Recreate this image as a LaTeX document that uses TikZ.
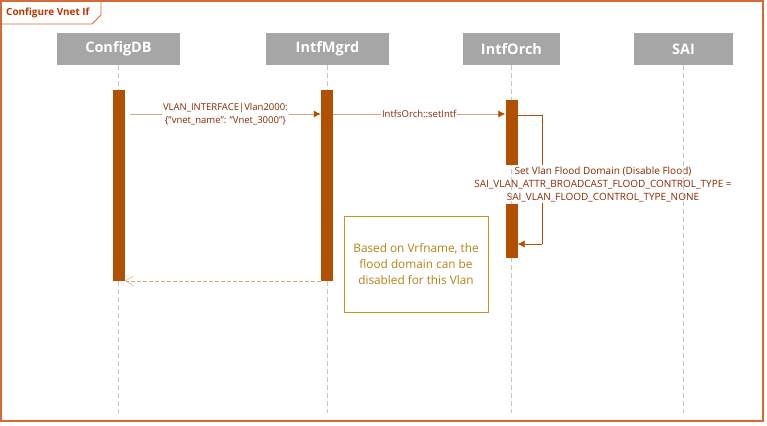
\documentclass[tikz,border=0pt]{standalone}
\usepackage{fontspec}
\setmainfont{Open Sans}
\usetikzlibrary{arrows.meta, positioning, calc}

\definecolor{vnetorange}{RGB}{214,106,56}
\definecolor{titlered}{RGB}{190,52,0}
\definecolor{headgray}{RGB}{166,166,166}
\definecolor{barbrown}{RGB}{176,80,0}
\definecolor{msgline}{RGB}{216,162,124}
\definecolor{msgtext}{RGB}{140,40,0}
\definecolor{notegold}{RGB}{196,150,40}
\definecolor{notetext}{RGB}{184,128,20}

\tikzset{
  lifehead/.style={fill=headgray, text=white, font=\bfseries\fontsize{14.5}{17}\selectfont, minimum height=32pt, inner sep=0pt},
  lifeline/.style={gray!45, dash pattern=on 5pt off 3pt},
  actbar/.style={fill=barbrown, minimum width=12pt, inner sep=0pt, anchor=north},
  msg/.style={msgline, thick, -{Latex[length=7pt,width=7pt,color=barbrown]}},
  selfmsg/.style={barbrown, thin, -{Latex[length=7pt,width=7pt]}},
  retmsg/.style={msgline, thin, dash pattern=on 4pt off 2pt, -{Straight Barb[length=8pt,width=10pt]}},
  msglabel/.style={fill=white, text=msgtext, font=\fontsize{9.5}{13}\selectfont, align=center, inner sep=1pt},
  notebox/.style={draw=notegold, thick, text=notetext, font=\fontsize{11.8}{16}\selectfont, align=center, minimum width=144pt, minimum height=96pt, inner sep=2pt},
}

\begin{document}
\begin{tikzpicture}[x=1pt, y=-1pt]
    \useasboundingbox (0,0) rectangle (767,425);

    % frame and title tab
    \draw[draw=vnetorange, line width=1.2pt] (1,1) rectangle (763,421);
    \draw[draw=vnetorange, line width=0.8pt] (1,24) -- (92,24) -- (101,15) -- (101,1);
    \node[anchor=west, text=titlered, font=\bfseries\fontsize{9.9}{11}\selectfont, inner sep=0pt] (title) at (6,12.5) {Configure Vnet If};

    % lifeline heads
    \node[lifehead, minimum width=123pt] (cfgdb) at (118.5,49) {ConfigDB};
    \node[lifehead, minimum width=123pt] (intfmgrd) at (327.5,49) {IntfMgrd};
    \node[lifehead, minimum width=97pt] (intforch) at (511.5,49) {IntfOrch};
    \node[lifehead, minimum width=99pt] (sai) at (683.5,49) {SAI};

    % self message and its label
    \coordinate (selfturn) at (542,115);
    \coordinate (selfend) at (542,244);
    \draw[barbrown, thin] (517.5,115) -- (selfturn) -- (selfend);
    \node[msglabel, font=\fontsize{10}{13}\selectfont] (floodlabel) at (603,184) {Set Vlan Flood Domain (Disable Flood)\\SAI\_VLAN\_ATTR\_BROADCAST\_FLOOD\_CONTROL\_TYPE =\\SAI\_VLAN\_FLOOD\_CONTROL\_TYPE\_NONE};

    \foreach \h in {cfgdb, intfmgrd, intforch, sai}
        \draw[lifeline] (\h.south) -- (\h.south |- 0,413);

    % activation bars
    \node[actbar, minimum height=191pt] (cfgbar) at (119,90) {};
    \node[actbar, minimum height=191pt] (mgrbar) at (327,90) {};
    \node[actbar, minimum height=65pt] (orchbar) at (511.5,100) {};
    \node[actbar, minimum height=54pt] (orchbarb) at (511.5,204) {};

    \draw[selfmsg] (selfend) -- (orchbarb.east |- selfend);

    % messages
    \coordinate (msgstart) at (130,114);
    \draw[msg] (msgstart) -- node[msglabel] {VLAN\_INTERFACE|Vlan2000:\\\{"vnet\_name": "Vnet\_3000"\}} (mgrbar.west |- msgstart);
    \draw[msg] (mgrbar.east |- msgstart) -- node[msglabel] {IntfsOrch::setIntf} (orchbar.west |- msgstart);
    \draw[retmsg] ($(mgrbar.south west)+(0,-0.5)$) -- ($(cfgbar.south east)+(0,-0.5)$);

    % note
    \node[notebox] (vrfnote) at (416,264) {Based on Vrfname, the\\flood domain can be\\disabled for this Vlan};
\end{tikzpicture}
\end{document}
